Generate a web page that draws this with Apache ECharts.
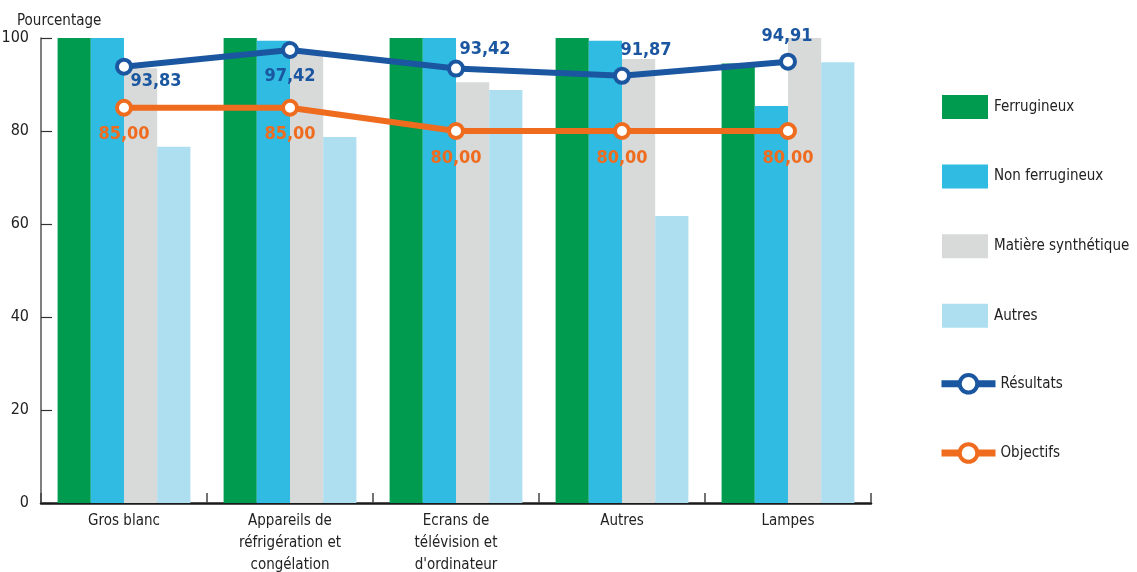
<!DOCTYPE html>
<html>
<head>
<meta charset="utf-8">
<script src="https://cdn.jsdelivr.net/npm/echarts@6/dist/echarts.min.js"></script>
<style>
  html, body { margin: 0; padding: 0; background: #ffffff; }
  #chart { width: 1137px; height: 572px; }
</style>
</head>
<body>
<div id="chart"></div>
<script>
// Taux de recyclage par catégorie d'équipements (%)
const categories = [
  'Gros blanc',
  'Appareils de\nréfrigération et\ncongélation',
  'Ecrans de\ntélévision et\nd\'ordinateur',
  'Autres',
  'Lampes'
];
const ferrugineux = [100, 100, 100, 100, 94.5];
const nonFerrugineux = [100, 99.4, 100, 99.4, 85.4];
const matiereSynthetique = [93.5, 97, 90.5, 95.5, 100];
const autres = [76.6, 78.7, 88.8, 61.7, 94.8];
const resultats = [93.83, 97.42, 93.42, 91.87, 94.91];
const objectifs = [85.00, 85.00, 80.00, 80.00, 80.00];
const yTicks = { min: 0, max: 100, interval: 20 };

const FONT = '"Liberation Sans Narrow", "DejaVu Sans Condensed", "Roboto", sans-serif';
const fmt = v => v.toFixed(2).replace('.', ',');

// label offsets for the result line, one per point
const resOffsets = [[32, 15], [0, 26], [29, -19], [24, -25], [-1, -25]];

const chart = echarts.init(document.getElementById('chart'), null, { renderer: 'canvas' });

const barSeries = (name, data, color) => ({
  name, type: 'bar', data, barGap: '0%', barCategoryGap: '20%',
  itemStyle: { color }, z: 2
});

chart.setOption({
  animation: false,
  textStyle: { fontFamily: FONT },
  title: {
    text: 'Pourcentage', left: 12, top: 9,
    textStyle: { fontFamily: FONT, fontSize: 15, fontWeight: 'normal', color: '#222' }
  },
  grid: { left: 41, right: 266, top: 38, bottom: 69, containLabel: false, outerBoundsMode: 'none' },
  legend: [
    {
      orient: 'vertical', left: 937, top: 90,
      icon: 'rect',
      itemWidth: 46, itemHeight: 24, itemGap: 45.6,
      data: ['Ferrugineux', 'Non ferrugineux', 'Matière synthétique', 'Autres'],
      textStyle: { fontFamily: FONT, fontSize: 15, color: '#222', padding: [0, 0, 0, 1] }
    },
    {
      orient: 'vertical', left: 933, top: 368,
      itemWidth: 54, itemHeight: 22, itemGap: 47.6,
      data: ['Résultats', 'Objectifs'],
      lineStyle: { width: 7 },
      itemStyle: { borderWidth: 4 },
      textStyle: { fontFamily: FONT, fontSize: 15, color: '#222', padding: [0, 0, 0, 0] }
    }
  ],
  xAxis: {
    type: 'category', data: categories,
    axisLine: { lineStyle: { color: '#1a1a1a', width: 2.5 } },
    axisTick: { show: true, inside: true, length: 10, lineStyle: { color: '#444', width: 1.5 } },
    axisLabel: { fontFamily: FONT, fontSize: 15, color: '#222', lineHeight: 22, margin: 7, interval: 0 },
    z: 1
  },
  yAxis: {
    type: 'value', min: yTicks.min, max: yTicks.max, interval: yTicks.interval,
    axisLine: { show: true, lineStyle: { color: '#555', width: 1.5 } },
    axisTick: { show: true, inside: true, length: 11, lineStyle: { color: '#333', width: 1.2 } },
    axisLabel: { fontFamily: FONT, fontSize: 16, color: '#222', margin: 12 },
    splitLine: { show: false }
  },
  series: [
    barSeries('Ferrugineux', ferrugineux, '#009b4f'),
    barSeries('Non ferrugineux', nonFerrugineux, '#2fbbe2'),
    barSeries('Matière synthétique', matiereSynthetique, '#d8d9d9'),
    barSeries('Autres', autres, '#aedff1'),
    {
      name: 'Résultats', type: 'line', z: 5,
      data: resultats.map((v, i) => ({
        value: v,
        label: { offset: resOffsets[i] }
      })),
      symbol: 'circle', symbolSize: 14,
      itemStyle: { color: '#ffffff', borderColor: '#1b56a0', borderWidth: 4 },
      lineStyle: { color: '#1b56a0', width: 6 },
      label: {
        show: true, position: 'inside',
        formatter: p => fmt(p.value),
        fontFamily: FONT, fontSize: 18, fontWeight: 'bold', color: '#1b56a0'
      }
    },
    {
      name: 'Objectifs', type: 'line', z: 4,
      data: objectifs,
      symbol: 'circle', symbolSize: 14,
      itemStyle: { color: '#ffffff', borderColor: '#ef6c1f', borderWidth: 4 },
      lineStyle: { color: '#ef6c1f', width: 6 },
      label: {
        show: true, position: 'inside', offset: [0, 27],
        formatter: p => fmt(p.value),
        fontFamily: FONT, fontSize: 18, fontWeight: 'bold', color: '#ef6c1f'
      }
    }
  ]
});
</script>
</body>
</html>
